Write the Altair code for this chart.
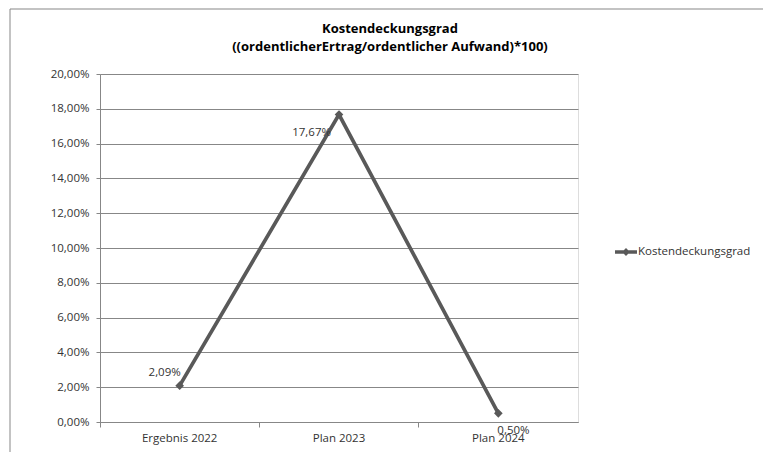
import altair as alt
import pandas as pd

# ---- data ----
categories = ["Ergebnis 2022", "Plan 2023", "Plan 2024"]
values = [0.0209, 0.1767, 0.0050]
series_name = "Kostendeckungsgrad"
title_lines = ["Kostendeckungsgrad", "((ordentlicherErtrag/ordentlicher Aufwand)*100)"]
y_ticks = [0.00, 0.02, 0.04, 0.06, 0.08, 0.10, 0.12, 0.14, 0.16, 0.18, 0.20]

df = pd.DataFrame({
    "Kategorie": categories,
    "Wert": values,
    "Reihe": [series_name] * len(categories),
})

W, H = 478, 348
FONT = "Open Sans"
LINE = "#595959"
AXC = "#878787"
TXT = "#333333"
PCT = "replace(format(datum.value, '.2%'), '.', ',')"

x_main = alt.X(
    "Kategorie:N", sort=categories,
    scale=alt.Scale(type="band", paddingInner=0, paddingOuter=0),
    axis=alt.Axis(title=None, orient="bottom", ticks=False, labelAngle=0,
                  labelPadding=10, labelFont=FONT, labelFontSize=11.5,
                  labelColor=TXT, domainColor=AXC, grid=False),
)
y_main = alt.Y(
    "Wert:Q", scale=alt.Scale(domain=[0, 0.2], nice=False, zero=True),
    axis=alt.Axis(title=None, values=y_ticks, labelExpr=PCT, grid=True,
                  gridColor=AXC, tickColor=AXC, tickSize=4, domainColor=AXC,
                  labelFont=FONT, labelFontSize=11.5, labelColor=TXT, labelPadding=7),
)

base = alt.Chart(df)

line = base.mark_line(color=LINE, strokeWidth=3.7).encode(x=x_main, y=y_main)

legend_path = "M-1,-0.16H1V0.16H-1Z M0,-0.36L0.36,0L0,0.36L-0.36,0Z"
points = base.mark_point(shape="diamond", filled=True, size=75, opacity=1).encode(
    x=x_main, y=y_main,
    color=alt.Color("Reihe:N", scale=alt.Scale(range=[LINE]),
                    legend=alt.Legend(title=None, orient="none", legendX=515, legendY=167,
                                      symbolType=legend_path, symbolSize=484,
                                      symbolStrokeWidth=0, labelFont=FONT,
                                      labelFontSize=11.5, labelColor=TXT, labelOffset=1)),
)

lab = base.transform_calculate(
    label="replace(format(datum.Wert, '.2%'), '.', ',')"
)
t1 = lab.transform_filter(alt.datum.Kategorie == categories[0]).mark_text(
    font=FONT, fontSize=11.5, color=TXT, align="center", dx=-15, dy=-13
).encode(x=x_main, y=y_main, text="label:N")
t2 = lab.transform_filter(alt.datum.Kategorie == categories[1]).mark_text(
    font=FONT, fontSize=11.5, color=TXT, align="right", dx=-8, dy=18
).encode(x=x_main, y=y_main, text="label:N")
t3 = lab.transform_filter(alt.datum.Kategorie == categories[2]).mark_text(
    font=FONT, fontSize=11.5, color=TXT, align="left", dx=-1, dy=18
).encode(x=x_main, y=y_main, text="label:N")

ticks = base.mark_point(opacity=0).encode(
    x=alt.X("Kategorie:N", sort=categories,
            axis=alt.Axis(title=None, orient="bottom", labels=False, domain=False,
                          ticks=True, tickSize=5, tickColor=AXC, bandPosition=0,
                          grid=False)),
)

frame_data = alt.Data(values=[{"f": 1}])
frame_left = alt.Chart(frame_data).mark_rule(color=AXC, strokeWidth=1).encode(
    x=alt.value(-90), y=alt.value(-65), y2=alt.value(H + 40))
frame_top = alt.Chart(frame_data).mark_rule(color=AXC, strokeWidth=1).encode(
    x=alt.value(-90), x2=alt.value(W + 200), y=alt.value(-65))

main = alt.layer(line, points, t1, t2, t3)

chart = alt.layer(
    frame_left, frame_top, main, ticks
).resolve_axis(x="independent").properties(
    width=W, height=H,
    autosize=alt.AutoSizeParams(type="none"),
    padding={"left": 92, "top": 66, "right": 185, "bottom": 30},
    title=alt.TitleParams(text=title_lines, font=FONT, fontSize=13, fontWeight="bold",
                          anchor="middle", frame="group", dx=51, offset=0, dy=45,
                          lineHeight=18, color="#000000"),
).configure_view(stroke=None).configure(background="white")

chart.save("out.html", embed_options={"renderer": "svg", "actions": False})
